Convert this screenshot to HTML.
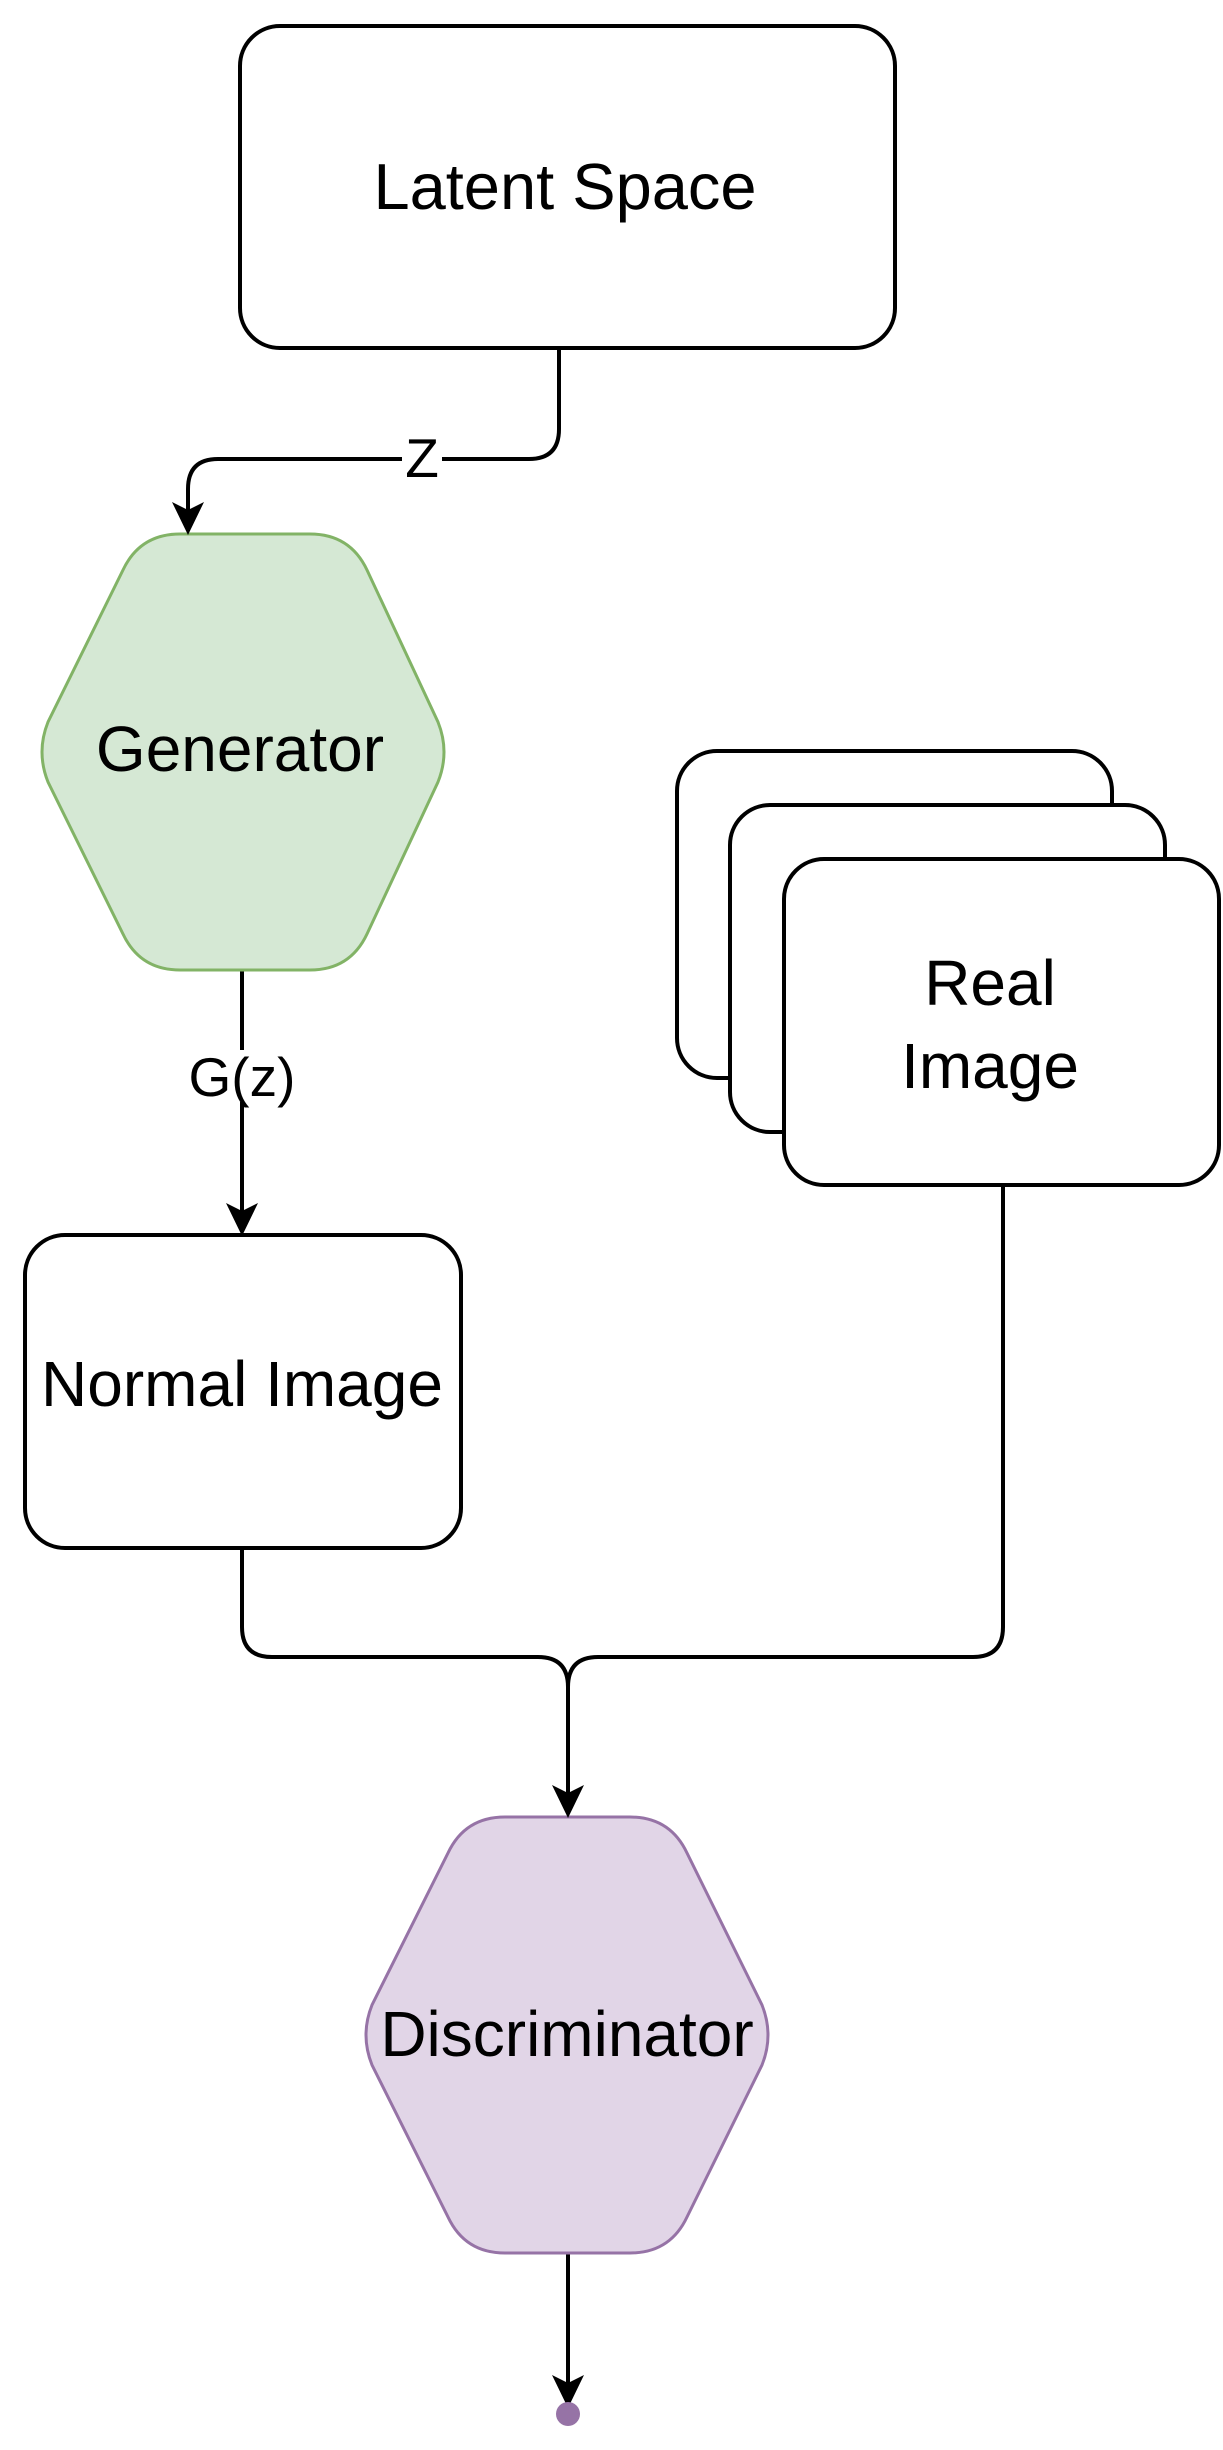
<!DOCTYPE html>
<html><head><meta charset="utf-8"><style>
html,body{margin:0;padding:0;background:#fff;}
svg{display:block;}
text{font-family:"Liberation Sans",Arial,sans-serif;fill:#000;}
</style></head><body>
<svg width="1223" height="2450" viewBox="0 0 1223 2450" xmlns="http://www.w3.org/2000/svg">
<g fill="none" stroke="#000" stroke-width="4">
<rect x="240" y="26" width="655" height="322" rx="40" fill="#fff"/>
<path d="M559,348 L559,429 Q559,459 529,459 L218,459 Q188,459 188,489 L188,512"/>
<path d="M242,970 L242,1212"/>
<rect x="677" y="751" width="435" height="327" rx="40" fill="#fff"/>
<rect x="730" y="805" width="435" height="327" rx="40" fill="#fff"/>
<rect x="784" y="859" width="435" height="326" rx="40" fill="#fff"/>
<rect x="25" y="1235" width="436" height="313" rx="40" fill="#fff"/>
<path d="M242,1548 L242,1627 Q242,1657 272,1657 L538,1657 Q568,1657 568,1687 L568,1795"/>
<path d="M1003,1185 L1003,1627 Q1003,1657 973,1657 L598,1657 Q568,1657 568,1687"/>
<path d="M568,2253 L568,2392"/>
</g>
<path d="M180,534 L310,534 Q350,534 367,570 L438,722 Q450,752 438,782 L367,934 Q350,970 310,970 L180,970 Q140,970 123,934 L48,782 Q36,752 48,722 L123,570 Q140,534 180,534Z" fill="#d5e8d4" stroke="#82b366" stroke-width="3"/>
<path d="M505,1817 L630,1817 Q670,1817 687,1853 L762,2005 Q774,2035 762,2065 L687,2217 Q670,2253 630,2253 L505,2253 Q465,2253 448,2217 L372,2065 Q360,2035 372,2005 L448,1853 Q465,1817 505,1817Z" fill="#e1d5e7" stroke="#9673a6" stroke-width="3"/>
<g fill="#000">
<path d="M188,535 L172,502 L188,510 L204,502 Z"/>
<path d="M242,1236 L226,1203 L242,1211 L258,1203 Z"/>
<path d="M568,1818 L552,1785 L568,1793 L584,1785 Z"/>
<path d="M568,2408 L552,2375 L568,2383 L584,2375 Z"/>
</g>
<circle cx="568" cy="2414" r="12" fill="#9673a6"/>
<rect x="402" y="432" width="40" height="50" fill="#fff"/>
<rect x="186" y="1050" width="112" height="52" fill="#fff"/>
<text x="565" y="209" font-size="65" text-anchor="middle">Latent Space</text>
<text x="422" y="477" font-size="55" text-anchor="middle">Z</text>
<text x="240" y="771" font-size="64" text-anchor="middle">Generator</text>
<text x="242" y="1096" font-size="55" text-anchor="middle">G(z)</text>
<text x="990" y="1005" font-size="64" text-anchor="middle">Real</text>
<text x="990" y="1088" font-size="64" text-anchor="middle">Image</text>
<text x="242" y="1406" font-size="64" text-anchor="middle">Normal Image</text>
<text x="567" y="2056" font-size="64" text-anchor="middle">Discriminator</text>
</svg>
</body></html>
